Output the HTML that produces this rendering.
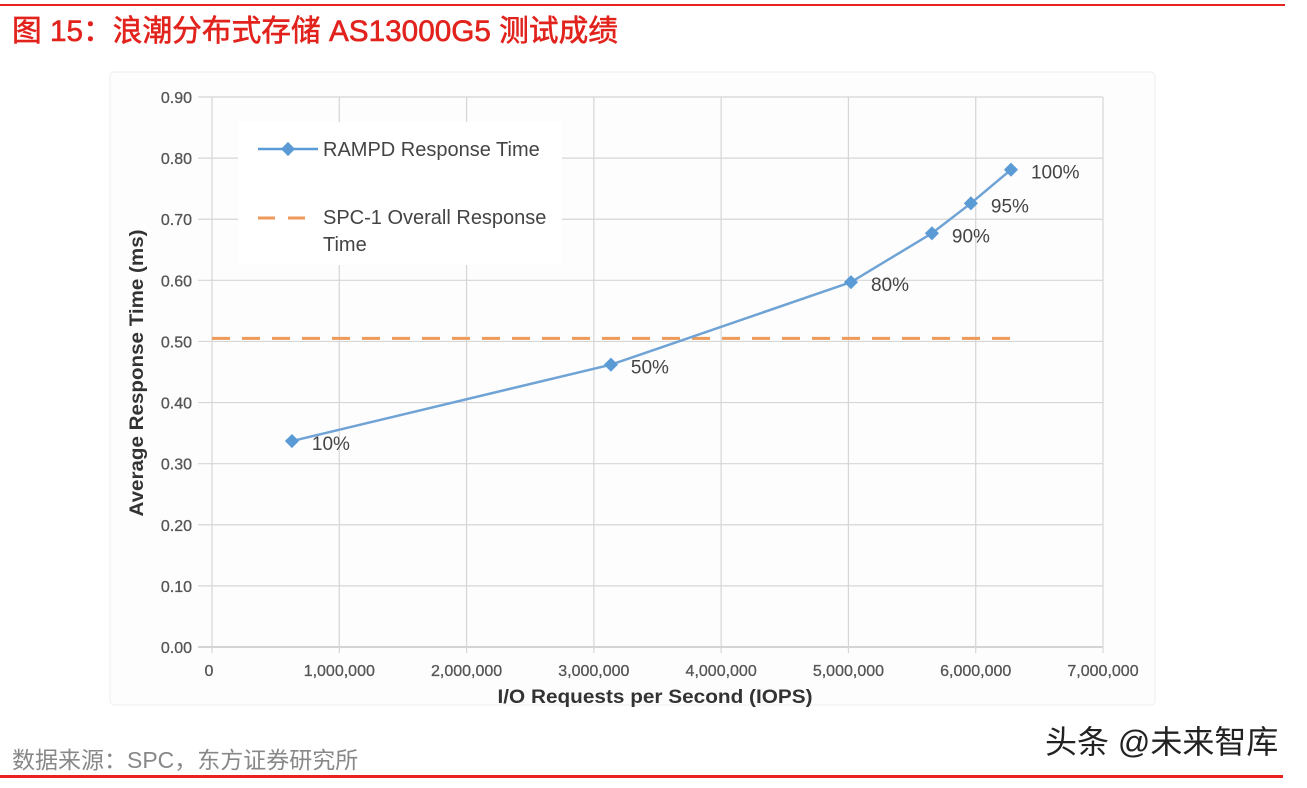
<!DOCTYPE html>
<html><head><meta charset="utf-8"><style>
body{margin:0;width:1307px;height:783px;background:#fff;overflow:hidden;font-family:"Liberation Sans","Noto Sans CJK SC",sans-serif;}
</style></head><body>
<svg width="1307" height="783" xmlns="http://www.w3.org/2000/svg">
<rect x="0" y="4" width="1285" height="2" fill="#e8231f"/>
<text x="12" y="41" font-size="30" fill="#e2231d" stroke="#e2231d" stroke-width="0.6" textLength="606" lengthAdjust="spacingAndGlyphs" font-family="Liberation Sans,Noto Sans CJK SC,sans-serif">图 15：浪潮分布式存储 AS13000G5 测试成绩</text>
<rect x="110" y="72" width="1045" height="633" rx="4" fill="#fdfdfd" stroke="#eeeeee"/>
<g id="grid"></g>
<g id="axes"></g>
<rect x="238" y="122" width="324" height="143" fill="#fff"/>
<g>
<line x1="258" y1="149" x2="318" y2="149" stroke="#5b9bd5" stroke-width="2.5"/>
<rect x="283" y="144" width="10" height="10" fill="#5b9bd5" transform="rotate(45 288 149)"/>
<text x="323" y="156" font-size="20" fill="#444">RAMPD Response Time</text>
</g>
<g>
<line x1="258" y1="218" x2="318" y2="218" stroke="#ed9a5a" stroke-width="3" stroke-dasharray="17,13"/>
<text x="323" y="224" font-size="20" fill="#444">SPC-1 Overall Response</text>
<text x="323" y="251" font-size="20" fill="#444">Time</text>
</g>
<g id="series"></g>
<text transform="translate(143 373) rotate(-90)" text-anchor="middle" font-size="19" font-weight="bold" fill="#333" textLength="287" lengthAdjust="spacingAndGlyphs">Average Response Time (ms)</text>
<text x="655" y="703" text-anchor="middle" font-size="19" font-weight="bold" fill="#333" textLength="315" lengthAdjust="spacingAndGlyphs">I/O Requests per Second (IOPS)</text>
<text x="12" y="768" font-size="23" fill="#888">数据来源：SPC，东方证券研究所</text>
<text x="1045" y="753" font-size="32" fill="#222">头条 @未来智库</text>
<rect x="0" y="775" width="1283" height="3" fill="#e8231f"/>
</svg>
<script>
const xTicks=[0,1000000,2000000,3000000,4000000,5000000,6000000,7000000];
const xTickLabels=["0","1,000,000","2,000,000","3,000,000","4,000,000","5,000,000","6,000,000","7,000,000"];
const yTicks=[0,0.1,0.2,0.3,0.4,0.5,0.6,0.7,0.8,0.9];
const yTickLabels=["0.00","0.10","0.20","0.30","0.40","0.50","0.60","0.70","0.80","0.90"];
const iops=[628000,3134000,5020000,5656000,5962000,6277000];
const respTime=[0.337,0.462,0.597,0.677,0.726,0.781];
const pointLabels=["10%","50%","80%","90%","95%","100%"];
const spcOverall=0.505;
const spcRange=[0,6290000];
const NS="http://www.w3.org/2000/svg";
const X=v=>212+v/7000000*891;
const Y=v=>647-v/0.9*550;
function mk(tag,attrs,parent,txt){const e=document.createElementNS(NS,tag);for(const k in attrs)e.setAttribute(k,attrs[k]);if(txt!==undefined)e.textContent=txt;parent.appendChild(e);return e;}
const grid=document.getElementById('grid'),axes=document.getElementById('axes'),series=document.getElementById('series');
yTicks.forEach((t,i)=>{
 const l=mk('line',{x1:198,x2:1103,y1:Y(t),y2:Y(t),stroke:i===0?'#bbb':'#d6d6d6','stroke-width':1.2},grid);
 
 
 const tx=mk('text',{x:192,y:Y(t)+6,'text-anchor':'end','font-size':16,fill:'#555',stroke:'#555','stroke-width':0.3},axes,yTickLabels[i]);
 
 
});
xTicks.forEach((t,i)=>{
 const l=mk('line',{x1:X(t),x2:X(t),y1:Y(0.9),y2:Y(0)+6,stroke:'#d6d6d6','stroke-width':1.2},grid);
 
 
 const tx=mk('text',{x:X(t)-(i?0:3),y:676,'text-anchor':'middle','font-size':16,fill:'#555',stroke:'#555','stroke-width':0.3},axes,xTickLabels[i]);
 
 
});
const dash=mk('line',{x1:X(spcRange[0]),x2:X(spcRange[1]),y1:Y(spcOverall),y2:Y(spcOverall),stroke:'#ed9a5a','stroke-width':3,'stroke-dasharray':'18,12'},series);


const pl=mk('polyline',{points:iops.map((v,i)=>X(v)+','+Y(respTime[i])).join(' '),fill:'none',stroke:'#6fa3d6','stroke-width':2.5},series);


iops.forEach((v,i)=>{
 const cx=X(v),cy=Y(respTime[i]);
 const d=mk('rect',{x:cx-5,y:cy-5,width:10,height:10,fill:'#5b9bd5',transform:`rotate(45 ${cx} ${cy})`},series);
 
 
 const t=mk('text',{x:cx+20,y:cy+9,'font-size':19,fill:'#444'},series,pointLabels[i]);
 
 
});
</script>
</body></html>
